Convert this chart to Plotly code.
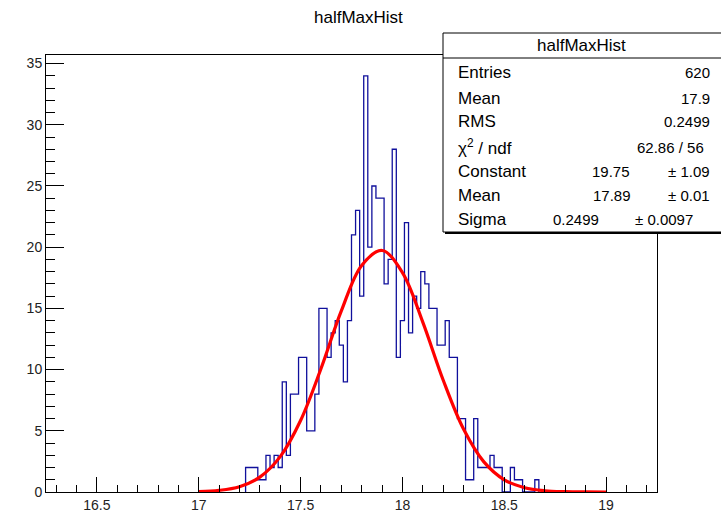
import numpy as np
import plotly.graph_objects as go

# ---------------- data ----------------
hist_xmin = 16.25
hist_xmax = 19.25
bin_width = 0.02
first_edge = 17.23          # left edge of first filled bin
counts = [2, 2, 2, 1, 1, 3, 2, 3, 2, 9,
          3, 8, 8, 11, 11, 5, 5, 8, 15, 15,
          11, 13, 14, 12, 9, 14, 21, 23, 16, 34,
          20, 25, 24, 24, 17, 19, 28, 11, 14, 22,
          13, 16, 15, 18, 17, 15, 15, 12, 12, 14,
          11, 11, 6, 6, 1, 1, 6, 2, 2, 2,
          3, 2, 2, 0, 0, 2, 1, 1, 0, 0,
          0, 1]

fit_x = [17.0, 17.1, 17.2, 17.3, 17.4, 17.5, 17.6, 17.7, 17.8, 17.9, 18.0,
         18.1, 18.2, 18.3, 18.4, 18.5, 18.6, 18.7, 18.8, 18.9, 19.0]
fit_y = [0.035, 0.134, 0.437, 1.217, 2.889, 5.844, 10.07, 14.79, 18.51, 19.73, 17.93,
         13.88, 9.15, 5.14, 2.46, 1.00, 0.35, 0.10, 0.026, 0.006, 0.001]

x_tickvals = [16.5, 17, 17.5, 18, 18.5, 19]
x_ticktext = ["16.5", "17", "17.5", "18", "18.5", "19"]
y_tickvals = [0, 5, 10, 15, 20, 25, 30, 35]
y_max = 35.7

title_text = "halfMaxHist"
stats_labels = ["Entries", "Mean", "RMS", "\u03c7<sup>2</sup> / ndf", "Constant", "Mean", "Sigma"]
stats_values = ["620", "17.9", "0.2499", "62.86 / 56", "19.75", "17.89", "0.2499"]
stats_errors = ["", "", "", "", "\u00b1 1.09", "\u00b1 0.01", "\u00b1 0.0097"]

# ---------------- geometry ----------------
W, H = 721, 514
L, T, PW, PH = 46, 55, 611, 437
R = W - L - PW
B = H - T - PH

def px(xp):
    return (xp - L) / PW

def py(yp):
    return (T + PH - yp) / PH

FONT = "Liberation Sans, Arial, Helvetica, sans-serif"

# ---------------- traces ----------------
n = len(counts)
edges = first_edge + bin_width * np.arange(n + 1)
hx = [edges[0]] + list(edges[:-1]) + [edges[-1]]
hy = [0] + list(counts) + [0]

fig = go.Figure()
fig.add_trace(go.Scatter(x=hx, y=hy, mode="lines", line=dict(shape="hv", color="#10109c", width=1.3),
                         hoverinfo="skip", showlegend=False))
fig.add_trace(go.Scatter(x=fit_x, y=fit_y, mode="lines", line=dict(shape="spline", color="#ff0000", width=3.2),
                         hoverinfo="skip", showlegend=False))

fig.update_layout(
    width=W, height=H, autosize=False,
    margin=dict(l=L, r=R, t=T, b=B, pad=0, autoexpand=False),
    paper_bgcolor="white", plot_bgcolor="white",
    font=dict(family=FONT, color="black", size=14),
    showlegend=False,
    xaxis=dict(range=[hist_xmin, hist_xmax], showgrid=False, zeroline=False, automargin=False,
               showline=True, linecolor="black", linewidth=1, mirror=True,
               ticks="inside", ticklen=15, tickwidth=1, tickcolor="black",
               tickvals=x_tickvals, ticktext=x_ticktext, tickfont=dict(size=14, color="#222"),
               minor=dict(ticks="inside", ticklen=7, tickwidth=1, tickcolor="black", dtick=0.1, tick0=16.5, showgrid=False)),
    yaxis=dict(range=[0, y_max], showgrid=False, zeroline=False, automargin=False,
               showline=True, linecolor="black", linewidth=1, mirror=True,
               ticks="inside", ticklen=18, tickwidth=1, tickcolor="black",
               tickvals=y_tickvals, tickfont=dict(size=14, color="#222"),
               minor=dict(ticks="inside", ticklen=9, tickwidth=1, tickcolor="black", dtick=1, tick0=0, showgrid=False)),
)

shapes = []
# stats box shadow + box
bx0, bx1, by0, by1 = 443, 724, 33, 232
shapes.append(dict(type="rect", xref="paper", yref="paper", x0=px(bx0 + 2), x1=px(bx1 + 2), y0=py(by1 + 2), y1=py(by0 + 2),
                   fillcolor="black", line=dict(width=0), layer="above"))
shapes.append(dict(type="rect", xref="paper", yref="paper", x0=px(bx0), x1=px(bx1), y0=py(by1), y1=py(by0),
                   fillcolor="white", line=dict(color="black", width=1), layer="above"))
shapes.append(dict(type="line", xref="paper", yref="paper", x0=px(bx0), x1=px(bx1), y0=py(58), y1=py(58),
                   line=dict(color="black", width=1), layer="above"))
fig.update_layout(shapes=shapes)

ann = []
ann.append(dict(text=title_text, xref="paper", yref="paper", x=px(358), y=py(18), xanchor="center", yanchor="middle",
                showarrow=False, font=dict(size=17, color="black", family=FONT)))
ann.append(dict(text=title_text, xref="paper", yref="paper", x=px(581), y=py(46), xanchor="center", yanchor="middle",
                showarrow=False, font=dict(size=17, color="black", family=FONT)))
row_y = [73, 98, 122, 147, 171, 195, 219]
val_right = [712, 712, 712, 706, 632, 633, 601]
err_right = [0, 0, 0, 0, 712, 712, 695]
for lab, val, err, ry, vr, er in zip(stats_labels, stats_values, stats_errors, row_y, val_right, err_right):
    ann.append(dict(text=lab, xref="paper", yref="paper", x=px(456), y=py(ry), xanchor="left", yanchor="middle",
                    showarrow=False, font=dict(size=17, color="black", family=FONT)))
    ann.append(dict(text=val, xref="paper", yref="paper", x=px(vr), y=py(ry), xanchor="right", yanchor="middle",
                    showarrow=False, font=dict(size=15, color="black", family=FONT)))
    if err:
        ann.append(dict(text=err, xref="paper", yref="paper", x=px(er), y=py(ry), xanchor="right", yanchor="middle",
                        showarrow=False, font=dict(size=15, color="black", family=FONT)))
fig.update_layout(annotations=ann)

fig.write_html("out.html", config={"displayModeBar": False, "staticPlot": True},
               post_script="document.body.style.margin='0px';document.body.style.overflow='hidden';")
